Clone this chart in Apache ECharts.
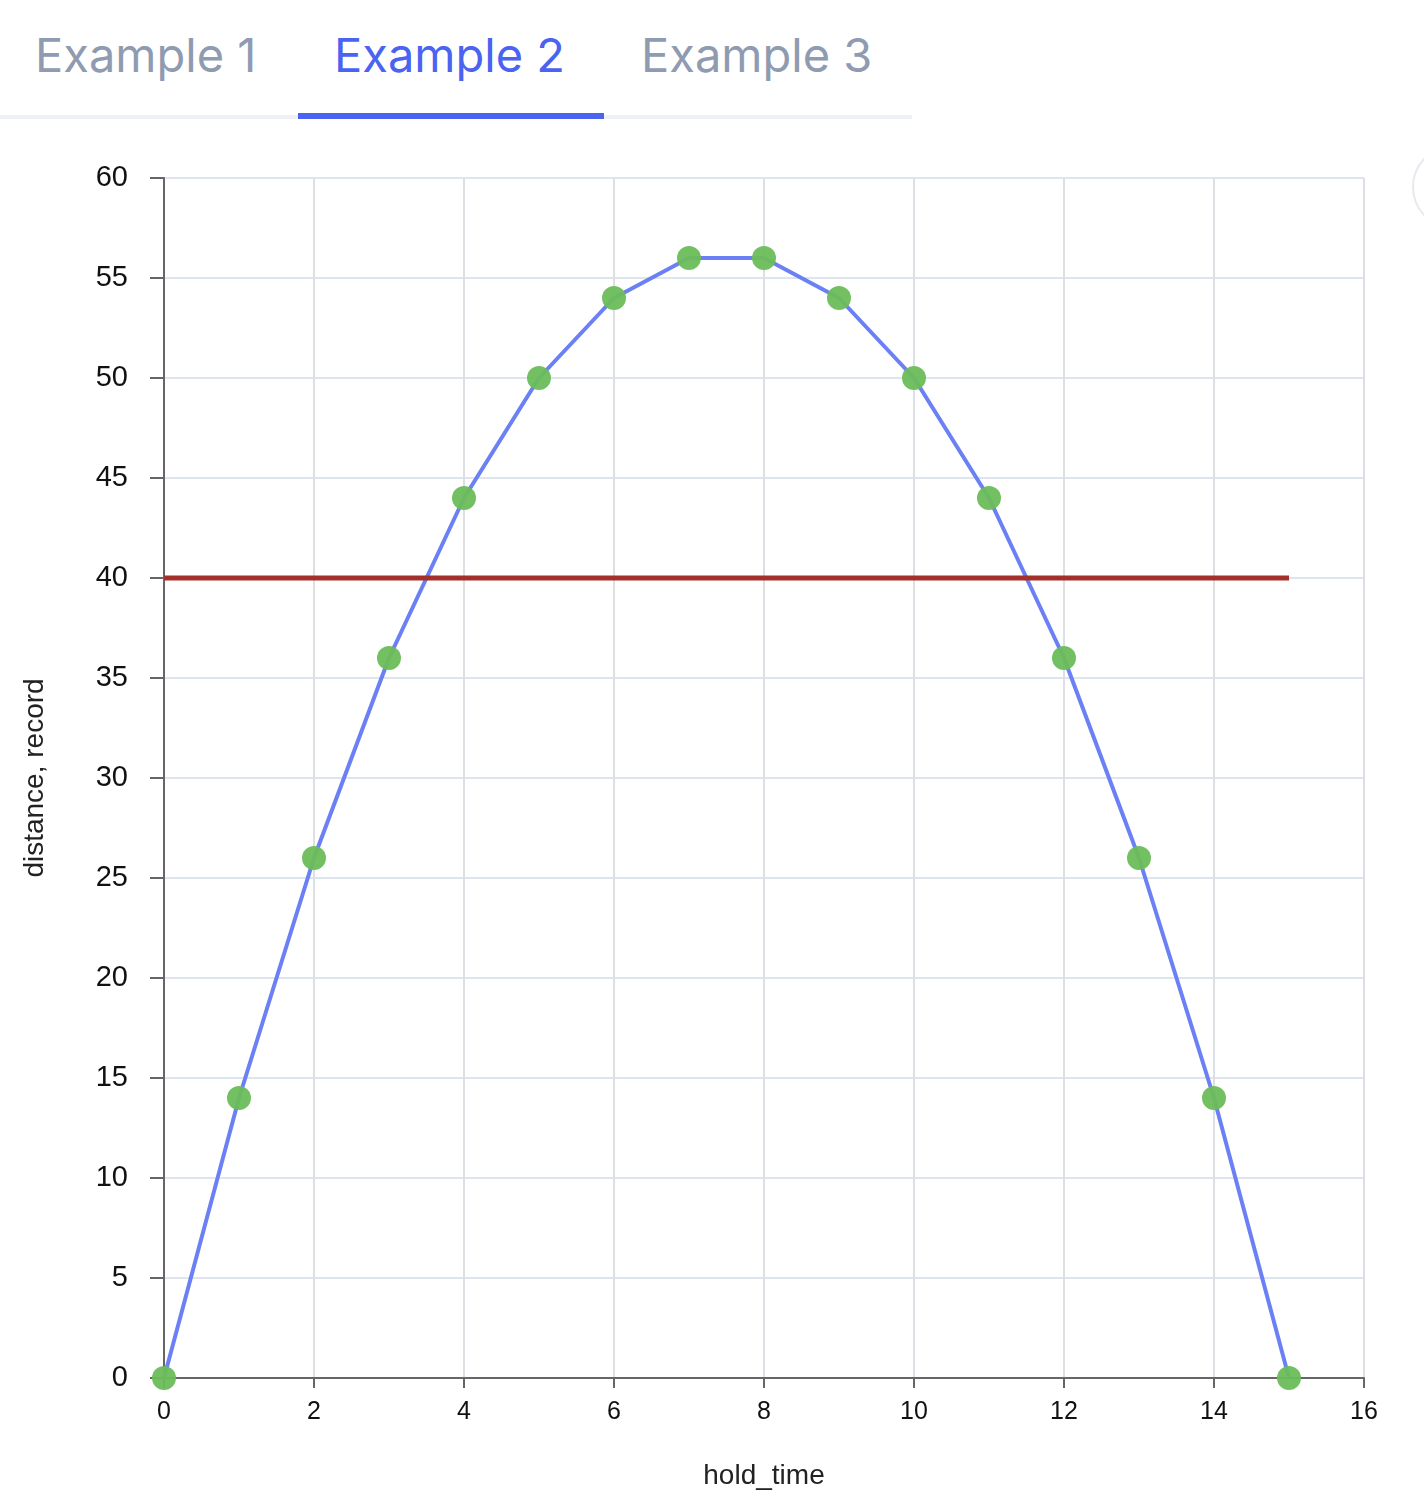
<!DOCTYPE html>
<html>
<head>
<meta charset="utf-8">
<script src="https://cdn.jsdelivr.net/npm/echarts@6/dist/echarts.min.js"></script>
<style>
  body { margin:0; width:1424px; height:1512px; background:#fff; font-family:"Inter","Noto Sans",sans-serif; position:relative; overflow:hidden; }
  .tabs { position:absolute; left:0; top:0; width:912px; height:119px; border-bottom:4px solid #eef2f7; box-sizing:border-box; }
  .tab { position:absolute; top:26px; font-size:47px; color:#8f9bb0; }
  .tab.on { color:#4a63f0; }
  .bar { position:absolute; left:298px; top:113px; width:306px; height:6px; background:#4a63f0; }
  .circ { position:absolute; left:1412px; top:145px; width:80px; height:80px; border:2px solid #e6e9ee; border-radius:50%; }
  #chart { position:absolute; left:0; top:0; width:1424px; height:1512px; }
</style>
</head>
<body>
<div class="tabs">
  <div class="tab" style="left:35px">Example 1</div>
  <div class="tab on" style="left:334px">Example 2</div>
  <div class="tab" style="left:641px">Example 3</div>
</div>
<div class="bar"></div>
<div class="circ"></div>
<div id="chart"></div>
<script>
// hold_time values
var holdTime = [0,1,2,3,4,5,6,7,8,9,10,11,12,13,14,15];
// distance per hold time
var distance = [0,14,26,36,44,50,54,56,56,54,50,44,36,26,14,0];
// record line
var recordValue = 40;
var recordRange = [0,15];

var pts = holdTime.map(function(t,i){ return [t, distance[i]]; });
var rec = recordRange.map(function(t){ return [t, recordValue]; });

var chart = echarts.init(document.getElementById('chart'));
chart.setOption({
  animation:false,
  grid:{ left:164, top:178, width:1200, height:1200 },
  xAxis:{
    type:'value', min:0, max:16, interval:2,
    name:'hold_time', nameLocation:'middle', nameGap:84,
    nameTextStyle:{ fontSize:28, color:'#222' },
    axisLine:{ show:true, lineStyle:{ color:'#666', width:2 } },
    axisTick:{ show:true, length:10, lineStyle:{ color:'#666', width:2 } },
    axisLabel:{ fontSize:25, color:'#111', margin:22 },
    splitLine:{ show:true, lineStyle:{ color:'#dcdfe4', width:2 } }
  },
  yAxis:{
    type:'value', min:0, max:60, interval:5,
    name:'distance, record', nameLocation:'middle', nameGap:115,
    nameTextStyle:{ fontSize:28, color:'#222' },
    axisLine:{ show:true, lineStyle:{ color:'#666', width:2 } },
    axisTick:{ show:true, length:14, lineStyle:{ color:'#666', width:2 } },
    axisLabel:{ fontSize:29, color:'#111', margin:36 },
    splitLine:{ show:true, lineStyle:{ color:'#dfe5ee', width:2 } }
  },
  series:[
    { type:'line', data:pts, showSymbol:false, lineStyle:{ color:'#6b80f5', width:4 }, z:2 },
    { type:'line', data:rec, showSymbol:false, lineStyle:{ color:'#a3302b', width:5 }, z:3 },
    { type:'scatter', data:pts, symbolSize:24, itemStyle:{ color:'#6cbd5a', opacity:0.95 }, z:4 }
  ]
});
</script>
</body>
</html>
